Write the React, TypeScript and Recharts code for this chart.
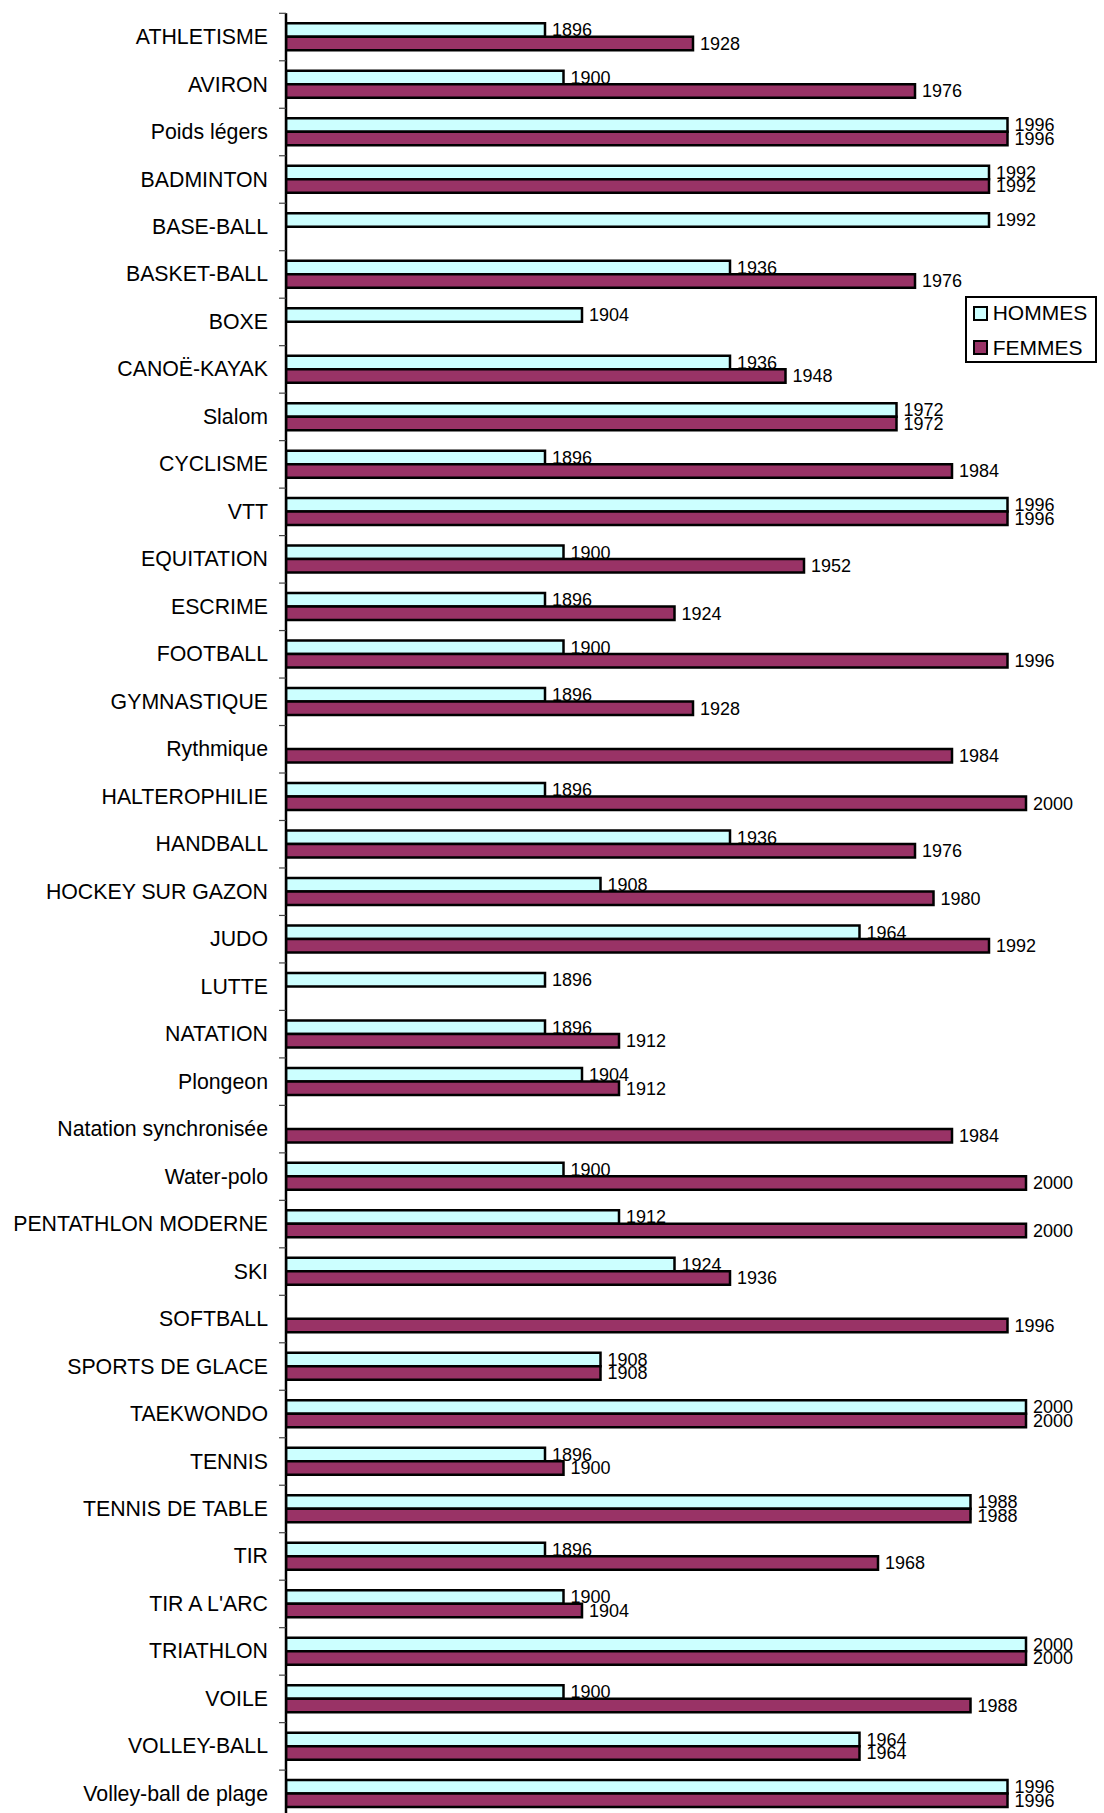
import React from 'react';
import { BarChart, Bar, XAxis, YAxis, CartesianGrid, LabelList, Legend } from 'recharts';

const sports = [
  'ATHLETISME', 'AVIRON', 'Poids légers', 'BADMINTON', 'BASE-BALL', 'BASKET-BALL', 'BOXE',
  'CANOË-KAYAK', 'Slalom', 'CYCLISME', 'VTT', 'EQUITATION', 'ESCRIME', 'FOOTBALL',
  'GYMNASTIQUE', 'Rythmique', 'HALTEROPHILIE', 'HANDBALL', 'HOCKEY SUR GAZON', 'JUDO',
  'LUTTE', 'NATATION', 'Plongeon', 'Natation synchronisée', 'Water-polo',
  'PENTATHLON MODERNE', 'SKI', 'SOFTBALL', 'SPORTS DE GLACE', 'TAEKWONDO', 'TENNIS',
  'TENNIS DE TABLE', 'TIR', "TIR A L'ARC", 'TRIATHLON', 'VOILE', 'VOLLEY-BALL',
  'Volley-ball de plage',
];

const hommes: (number | null)[] = [
  1896, 1900, 1996, 1992, 1992, 1936, 1904,
  1936, 1972, 1896, 1996, 1900, 1896, 1900,
  1896, null, 1896, 1936, 1908, 1964,
  1896, 1896, 1904, null, 1900,
  1912, 1924, null, 1908, 2000, 1896,
  1988, 1896, 1900, 2000, 1900, 1964,
  1996,
];

const femmes: (number | null)[] = [
  1928, 1976, 1996, 1992, null, 1976, null,
  1948, 1972, 1984, 1996, 1952, 1924, 1996,
  1928, 1984, 2000, 1976, 1980, 1992,
  null, 1912, 1912, 1984, 2000,
  2000, 1936, 1996, 1908, 2000, 1900,
  1988, 1968, 1904, 2000, 1988, 1964,
  1996,
];

const xTicks = [1840, 1860, 1880, 1900, 1920, 1940, 1960, 1980, 2000, 2020];

const data = sports.map((s, i) => ({ sport: s, hommes: hommes[i], femmes: femmes[i] }));

const FONT = "Arial, 'Liberation Sans', sans-serif";
const CHART_W = 1130;
const CHART_H = 1830;
const MARGIN = { top: 13.3, right: 11.5, bottom: 12.4, left: 0 };
const Y_AXIS_W = 286;
const PLOT_H = CHART_H - MARGIN.top - MARGIN.bottom;
const BAND = PLOT_H / sports.length;
const TICK_SIZE = 7;
const TICK_MARGIN = 11;

const SportTick = (props: any) => {
  const { x, y, payload, index } = props;
  const axisX = x + TICK_SIZE + TICK_MARGIN;
  return (
    <g>
      <line x1={axisX - TICK_SIZE} x2={axisX} y1={y - BAND / 2} y2={y - BAND / 2} stroke="#444" strokeWidth={1.2} />
      {index === sports.length - 1 && (
        <line x1={axisX - TICK_SIZE} x2={axisX} y1={y + BAND / 2} y2={y + BAND / 2} stroke="#444" strokeWidth={1.2} />
      )}
      <text x={x} y={y} dy="0.33em" textAnchor="end" fontSize={21.3} fontFamily={FONT} fill="#000">
        {payload.value}
      </text>
    </g>
  );
};

const LegendBox = () => {
  const items = [
    { name: 'HOMMES', color: '#CCFFFF', cy: 17.3 },
    { name: 'FEMMES', color: '#993366', cy: 51.7 },
  ];
  return (
    <div
      style={{
        position: 'relative',
        width: 132,
        height: 67,
        border: '2px solid #000',
        background: '#fff',
        boxSizing: 'border-box',
        fontFamily: FONT,
      }}
    >
      {items.map((it) => (
        <React.Fragment key={it.name}>
          <div
            style={{
              position: 'absolute',
              left: 5.7,
              top: it.cy - 2 - 7.5,
              width: 11,
              height: 11,
              border: '2px solid #000',
              background: it.color,
            }}
          />
          <div
            style={{
              position: 'absolute',
              left: 25.7,
              top: it.cy - 2 - 12,
              height: 24,
              lineHeight: '24px',
              fontSize: 21,
              color: '#000',
              whiteSpace: 'nowrap',
            }}
          >
            {it.name}
          </div>
        </React.Fragment>
      ))}
    </div>
  );
};

const labelStyle = { fontSize: 18, fontFamily: FONT, fill: '#000' };

export default function App() {
  return (
    <div
      style={{
        position: 'absolute',
        left: 0,
        top: 0,
        width: 1104,
        height: 1813,
        overflow: 'hidden',
        background: '#fff',
      }}
    >
      <BarChart
        width={CHART_W}
        height={CHART_H}
        data={data}
        layout="vertical"
        margin={MARGIN}
        barGap={0}
      >
        <CartesianGrid horizontal={false} stroke="#333" strokeWidth={1} />
        <XAxis
          type="number"
          orientation="top"
          domain={[1840, 2020]}
          ticks={xTicks}
          allowDataOverflow
          height={0}
          tick={false}
          tickLine={false}
          axisLine={{ stroke: '#222', strokeWidth: 1.5 }}
        />
        <YAxis
          type="category"
          dataKey="sport"
          width={Y_AXIS_W}
          interval={0}
          tickSize={TICK_SIZE}
          tickMargin={TICK_MARGIN}
          tickLine={false}
          tick={<SportTick />}
          axisLine={{ stroke: '#000', strokeWidth: 2.5 }}
        />
        <Legend
          layout="horizontal"
          verticalAlign="middle"
          align="center"
          content={<LegendBox />}
          wrapperStyle={{ left: 965, top: 296, width: 132, height: 67 }}
        />
        <Bar dataKey="hommes" name="HOMMES" fill="#CCFFFF" stroke="#000" strokeWidth={2.5} barSize={13.5} isAnimationActive={false}>
          <LabelList dataKey="hommes" position="right" offset={7} style={labelStyle} />
        </Bar>
        <Bar dataKey="femmes" name="FEMMES" fill="#993366" stroke="#000" strokeWidth={2.5} barSize={13.5} isAnimationActive={false}>
          <LabelList dataKey="femmes" position="right" offset={7} style={labelStyle} />
        </Bar>
      </BarChart>
    </div>
  );
}
